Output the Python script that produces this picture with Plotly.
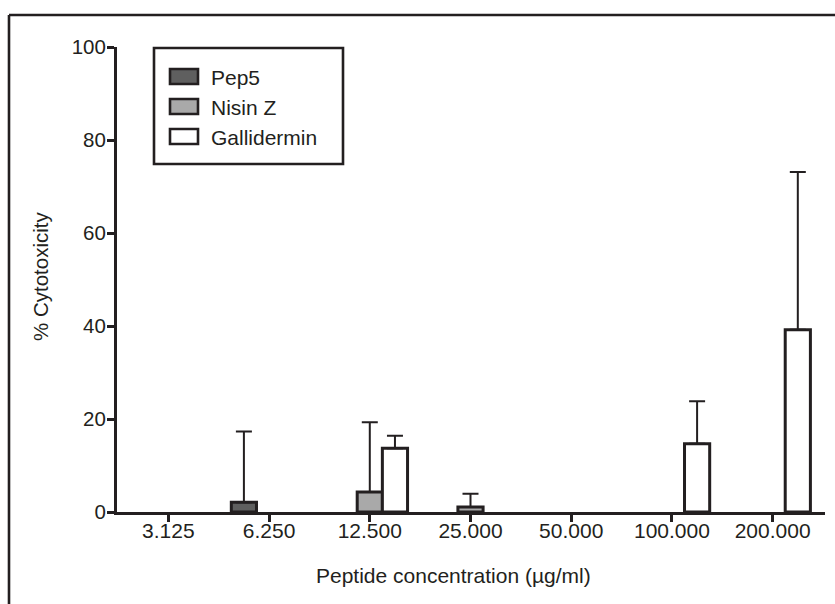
import plotly.graph_objects as go

# ---- data ----
concentrations = ["3.125", "6.250", "12.500", "25.000", "50.000", "100.000", "200.000"]
pep5_values = [0, 2.1, 0, 0, 0, 0, 0]
pep5_errors = [0, 15.2, 0, 0, 0, 0, 0]
nisin_values = [0, 0, 4.3, 1.1, 0, 0, 0]
nisin_errors = [0, 0, 15.0, 2.8, 0, 0, 0]
gallidermin_values = [0, 0, 13.7, 0, 0, 14.7, 39.2]
gallidermin_errors = [0, 0, 2.7, 0, 0, 9.1, 33.9]
series_names = ["Pep5", "Nisin Z", "Gallidermin"]
series_colors = ["#5f5f5f", "#a9a9a9", "#ffffff"]
y_ticks = [0, 20, 40, 60, 80, 100]
x_title = "Peptide concentration (µg/ml)"
y_title = "% Cytotoxicity"

INK = "#231f20"
FONT = "Liberation Sans, Arial, Helvetica, sans-serif"

W, H = 835, 604
L, R, T, B = 117, 10, 47, 92
PW, PH = W - L - R, H - T - B


def px_x(p):
    return (p - L) / PW


def px_y(p):
    return (H - B - p) / PH


fig = go.Figure()
for name, vals, errs, col in zip(
    series_names,
    [pep5_values, nisin_values, gallidermin_values],
    [pep5_errors, nisin_errors, gallidermin_errors],
    series_colors,
):
    fig.add_trace(go.Bar(
        name=name, x=concentrations,
        y=[v if v > 0 else None for v in vals],
        marker=dict(color=col, line=dict(color=INK, width=3)),
        error_y=dict(type="data", symmetric=False,
                     array=errs, arrayminus=[0] * len(errs),
                     color=INK, thickness=2, width=8),
        showlegend=False,
    ))

shapes = []
# outer frame (top and left edges)
shapes.append(dict(type="line", xref="paper", yref="paper",
                   x0=px_x(9), x1=px_x(835), y0=px_y(15), y1=px_y(15),
                   line=dict(color=INK, width=2.6)))
shapes.append(dict(type="line", xref="paper", yref="paper",
                   x0=px_x(9), x1=px_x(9), y0=px_y(15), y1=px_y(604),
                   line=dict(color=INK, width=2.6)))
# legend box
shapes.append(dict(type="rect", xref="paper", yref="paper",
                   x0=px_x(154), x1=px_x(343), y0=px_y(48), y1=px_y(164),
                   line=dict(color=INK, width=2.6), fillcolor="white"))
annotations = []
row_y = [76.5, 106.5, 136.5]
for name, col, cy in zip(series_names, series_colors, row_y):
    shapes.append(dict(type="rect", xref="paper", yref="paper",
                       x0=px_x(170), x1=px_x(198), y0=px_y(cy - 7.5), y1=px_y(cy + 7.5),
                       line=dict(color=INK, width=2.6), fillcolor=col))
    annotations.append(dict(text=name, xref="paper", yref="paper",
                            x=px_x(209), y=px_y(cy + 0.5), xanchor="left", yanchor="middle",
                            showarrow=False, font=dict(family=FONT, size=21, color=INK)))

# axis titles
annotations.append(dict(text=x_title, xref="paper", yref="paper",
                        x=px_x(453), y=px_y(575), xanchor="center", yanchor="middle",
                        showarrow=False, font=dict(family=FONT, size=21, color=INK)))
annotations.append(dict(text=y_title, xref="paper", yref="paper",
                        x=px_x(40), y=px_y(277), xanchor="center", yanchor="middle",
                        textangle=-90, showarrow=False,
                        font=dict(family=FONT, size=20.5, color=INK)))

fig.update_layout(
    width=W, height=H,
    margin=dict(l=L, r=R, t=T, b=B, autoexpand=False),
    paper_bgcolor="white", plot_bgcolor="white",
    barmode="group", bargap=0.25, bargroupgap=0,
    font=dict(family=FONT, size=21, color=INK),
    shapes=shapes, annotations=annotations,
    xaxis=dict(
        type="category", range=[-0.51, 6.52],
        showline=True, linecolor=INK, linewidth=3,
        ticks="outside", ticklen=7, tickwidth=3, tickcolor=INK,
        ticklabelstandoff=-9,
        showgrid=False, zeroline=False,
        tickfont=dict(family=FONT, size=21, color=INK),
        automargin=False,
    ),
    yaxis=dict(
        range=[0, 100], tickvals=y_ticks,
        showline=True, linecolor=INK, linewidth=3,
        ticks="outside", ticklen=7, tickwidth=3, tickcolor=INK,
        ticklabelstandoff=-3,
        showgrid=False, zeroline=False,
        tickfont=dict(family=FONT, size=20.5, color=INK),
        automargin=False,
    ),
)

fig.write_html("out.html")
